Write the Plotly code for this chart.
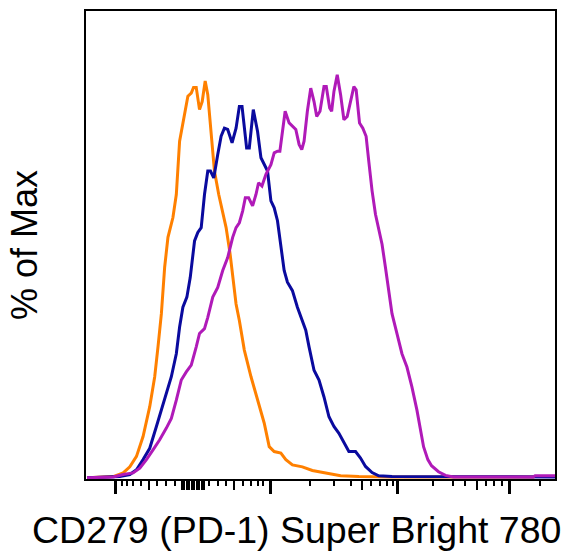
import plotly.graph_objects as go

# channel position on the display scale (0 = left edge of plot, 471 = right edge)
orange_x = [1, 14, 27.3, 37.3, 44, 50.7, 57.3, 64, 69, 72.3, 75.7, 79, 82.3, 87.3, 90.7, 94, 99,
            102.3, 105.7, 108, 110.7, 114, 116.7, 119.7, 122.3, 125.7, 129, 133.3, 137.3, 140.7,
            144.7, 147.3, 150.7, 154, 159, 165.7, 170.7, 175, 179, 184, 189, 195.7, 200.7, 207.3,
            217.3, 227.3, 240.7, 255.7, 274, 307, 449, 451, 471]
orange_y = [0.3, 0.4, 0.6, 1.5, 3.0, 5.6, 10.5, 17.9, 25.3, 32.7, 40.9, 52.4, 59.8, 64.7, 70.4,
            83.6, 90.1, 94.7, 95.5, 96.9, 96.9, 91.4, 93.4, 98.5, 95.1, 85.2, 76.2, 70.4, 65.5,
            62.2, 55.7, 49.9, 43.3, 39.2, 31.9, 25.3, 21.2, 17.1, 13.8, 8.0, 6.8, 6.4, 4.8, 3.5,
            3.0, 2.1, 1.5, 0.8, 0.6, 0.5, 0.5, 0.6, 0.6]

blue_x = [1, 34, 44, 50.7, 57.3, 64, 70.7, 75.7, 80.7, 85.7, 90.7, 94, 97.3, 101.3, 104.7, 109,
          112.3, 115.7, 119, 122.3, 125, 128.3, 132.3, 135.7, 139, 142.3, 146.7, 150.7, 154,
          156.7, 161.3, 164, 168, 172.3, 175.7, 180.7, 182.3, 185.7, 189, 192.3, 195.7, 199,
          202.3, 207.3, 212.3, 217.3, 220.7, 224, 229, 234, 239, 244, 249, 254, 259, 264, 270.7,
          275.7, 280.7, 287.3, 294, 307.3, 471]
blue_y = [0.3, 0.6, 1.1, 2.3, 4.8, 7.6, 13.0, 17.1, 21.2, 25.3, 31.0, 37.6, 42.5, 45.0, 49.9,
          58.9, 61.0, 62.2, 70.4, 76.2, 76.2, 74.5, 80.3, 84.8, 86.8, 86.5, 83.2, 86.8, 92.2,
          92.2, 81.9, 81.9, 91.4, 86.0, 79.5, 77.0, 76.2, 68.8, 67.1, 63.9, 57.3, 51.6, 48.7,
          46.6, 42.5, 39.2, 36.8, 32.7, 26.9, 24.5, 20.3, 15.4, 13.0, 11.3, 8.9, 6.8, 6.8, 5.2,
          3.1, 1.6, 0.8, 0.6, 0.5]

magenta_x = [1, 27.3, 37.3, 47.3, 54, 60.7, 67.3, 74, 80.7, 85.7, 90.7, 95.7, 100.7, 105.7,
             110.7, 114, 119, 122.3, 127.3, 132.3, 137.3, 142.3, 147.3, 150.7, 154, 157.3, 160,
             163.3, 167.3, 170.7, 173.3, 176.7, 180.7, 185.7, 189, 192.3, 194.7, 197.3, 200,
             204, 207.3, 210.7, 214, 216.7, 219, 222.3, 225.7, 229, 231.7, 235, 239, 241.3,
             244.7, 246.7, 249, 252.3, 255.7, 259, 262.3, 265.7, 269, 271.3, 274.7, 278, 281.3,
             284, 287.3, 290.7, 294, 297.3, 300.7, 304.7, 307.3, 312.3, 317.3, 322.3, 327.3,
             332.3, 335.7, 339, 343.3, 347, 354, 361, 369, 449, 451, 471]
magenta_y = [0.3, 0.5, 1.1, 1.5, 2.7, 4.8, 7.2, 9.7, 12.6, 15.0, 19.5, 24.5, 26.5, 28.2, 32.7,
             36.0, 37.2, 40.0, 45.0, 47.4, 51.6, 54.8, 59.8, 62.2, 63.4, 66.3, 69.6, 69.6, 67.6,
             70.4, 73.3, 72.5, 75.4, 77.8, 80.7, 81.1, 81.1, 85.6, 91.0, 88.1, 87.3, 86.5, 82.8,
             81.5, 83.6, 91.0, 96.7, 93.4, 89.7, 91.0, 97.1, 97.1, 91.8, 91.0, 95.9, 100.0, 95.1,
             88.9, 89.7, 93.4, 97.1, 96.3, 88.1, 86.8, 84.8, 78.6, 71.3, 65.5, 61.4, 58.1, 52.4,
             45.8, 40.9, 36.0, 31.0, 27.7, 22.8, 17.1, 12.1, 8.0, 4.8, 3.3, 1.8, 0.9, 0.5, 0.5,
             0.8, 0.8]

# biexponential axis ticks, in the same display units
major_ticks = [30, 185, 312.5, 425]
minor_ticks = [36.3, 41.3, 47.3, 55.7, 71.3, 80, 89, 124, 132.3, 140.7, 157.3, 165.7, 172.3,
               177.3, 224.7, 249, 265.7, 286.7, 295, 302.3, 308.3, 348, 369, 380.7, 401.3,
               409.7, 417.3, 455.7]
mid_ticks = [63.3, 96, 98.5, 101, 103.5, 106, 108.5, 111, 113.5, 116, 118, 149, 277.3, 392.3]

x_title = "CD279 (PD-1) Super Bright 780"
y_title = "% of Max"

fig = go.Figure()
for xs, ys, color, name in [
    (orange_x, orange_y, "#ff8000", "isotype"),
    (blue_x, blue_y, "#0a0a9e", "stim 1"),
    (magenta_x, magenta_y, "#b01ab8", "stim 2"),
]:
    fig.add_trace(go.Scatter(x=xs, y=ys, mode="lines", name=name,
                             line={"color": color, "width": 3}, showlegend=False))

# dummy trace so the overlay axis carrying the mid-length ticks gets drawn
fig.add_trace(go.Scatter(x=[None], y=[None], xaxis="x2", showlegend=False, hoverinfo="skip"))

fig.update_layout(
    width=566,
    height=557,
    paper_bgcolor="white",
    plot_bgcolor="white",
    margin={"l": 86, "r": 9, "t": 9, "b": 78},
    font={"family": "Liberation Sans, Arial, sans-serif", "color": "black"},
    xaxis={
        "range": [0, 471],
        "showgrid": False,
        "zeroline": False,
        "showline": True,
        "linecolor": "black",
        "linewidth": 1.6,
        "mirror": True,
        "ticks": "outside",
        "tickvals": major_ticks,
        "ticktext": [""] * len(major_ticks),
        "ticklen": 13,
        "tickwidth": 3,
        "tickcolor": "black",
        "minor": {"tickvals": minor_ticks, "ticks": "outside", "ticklen": 5,
                  "tickwidth": 2, "tickcolor": "black", "showgrid": False},
    },
    xaxis2={
        "range": [0, 471],
        "overlaying": "x",
        "anchor": "y",
        "side": "bottom",
        "showgrid": False,
        "zeroline": False,
        "showline": False,
        "ticks": "outside",
        "tickvals": mid_ticks,
        "ticktext": [""] * len(mid_ticks),
        "ticklen": 10,
        "tickwidth": 2,
        "tickcolor": "black",
    },
    yaxis={
        "range": [0, 115.8],
        "showgrid": False,
        "zeroline": False,
        "showline": True,
        "linecolor": "black",
        "linewidth": 1.6,
        "mirror": True,
        "ticks": "",
        "showticklabels": False,
    },
    annotations=[
        {"text": x_title, "xref": "paper", "yref": "paper", "x": 0.448, "y": -0.11,
         "xanchor": "center", "yanchor": "middle", "showarrow": False,
         "font": {"size": 37.5}},
        {"text": y_title, "xref": "paper", "yref": "paper", "x": -0.132, "y": 0.5,
         "xanchor": "center", "yanchor": "middle", "textangle": -90, "showarrow": False,
         "font": {"size": 36}},
    ],
)

# drop the default 8px body margin so the figure sits at the window's top-left corner
fig.write_html("out.html", config={"displayModeBar": False},
               post_script="document.body.style.margin = '0';")
